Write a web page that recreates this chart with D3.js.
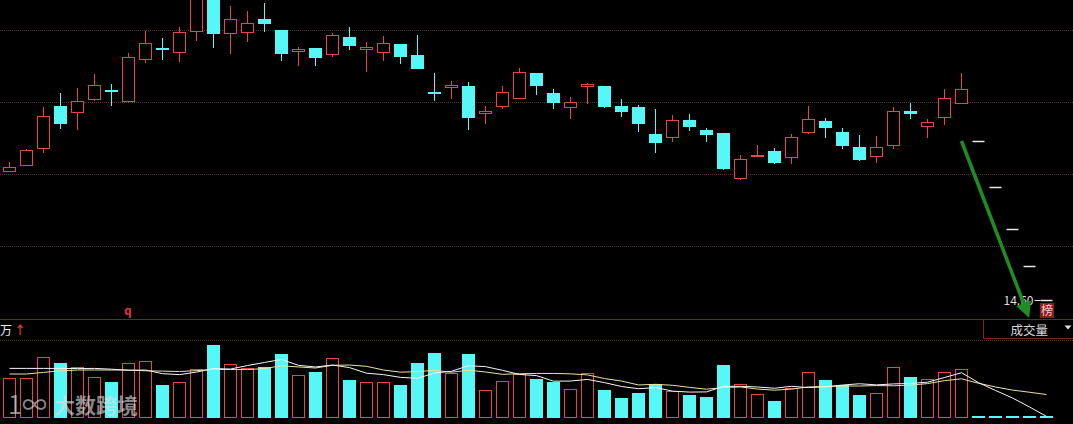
<!DOCTYPE html>
<html>
<head>
<meta charset="utf-8">
<script src="https://cdn.jsdelivr.net/npm/d3@7"></script>
<style>
  body { margin: 0; background: #000; }
</style>
</head>
<body>
<div id="chart"></div>
<script>
// daily candles, last 5 are the flat projection days
var days = d3.range(62);
var opens = [15.89, 15.95, 16.12, 16.54, 16.48, 16.61, 16.70, 16.59, 17.01, 17.12,
  17.08, 17.29, 17.68, 17.27, 17.28, 17.41, 17.30, 17.09, 17.12, 17.06,
  17.23, 17.11, 17.08, 17.16, 17.05, 16.68, 16.73, 16.74, 16.47, 16.54,
  16.62, 16.87, 16.67, 16.53, 16.74, 16.74, 16.54, 16.53, 16.26, 16.23,
  16.40, 16.30, 16.27, 15.82, 16.04, 16.09, 16.03, 16.28, 16.39, 16.28,
  16.13, 16.04, 16.15, 16.49, 16.34, 16.43, 16.57, 16.19, 15.73, 15.31,
  14.94, 14.60];
var highs = [15.98, 16.11, 16.53, 16.67, 16.72, 16.86, 16.76, 17.07, 17.29, 17.22,
  17.33, 17.85, 17.75, 17.54, 17.49, 17.57, 17.30, 17.13, 17.12, 17.27,
  17.33, 17.18, 17.24, 17.16, 17.25, 16.87, 16.79, 16.78, 16.54, 16.74,
  16.92, 16.87, 16.71, 16.63, 16.77, 16.74, 16.61, 16.55, 16.51, 16.45,
  16.46, 16.32, 16.27, 16.05, 16.15, 16.12, 16.26, 16.54, 16.42, 16.32,
  16.25, 16.24, 16.53, 16.57, 16.41, 16.71, 16.87, 16.19, 15.73, 15.31,
  14.94, 14.60];
var lows = [15.88, 15.94, 16.07, 16.31, 16.30, 16.59, 16.54, 16.57, 16.97, 17.00,
  16.98, 17.19, 17.12, 17.06, 17.18, 17.28, 16.99, 16.94, 16.94, 17.03,
  17.10, 16.88, 16.99, 16.96, 16.92, 16.59, 16.61, 16.30, 16.36, 16.51,
  16.62, 16.65, 16.51, 16.41, 16.56, 16.52, 16.43, 16.28, 16.07, 16.18,
  16.29, 16.18, 15.90, 15.80, 16.03, 15.96, 15.96, 16.26, 16.22, 16.11,
  15.99, 15.97, 16.11, 16.41, 16.22, 16.35, 16.57, 16.19, 15.73, 15.31,
  14.94, 14.60];
var closes = [15.93, 16.10, 16.44, 16.37, 16.59, 16.75, 16.69, 17.03, 17.17, 17.11,
  17.28, 17.72, 17.27, 17.41, 17.37, 17.37, 17.07, 17.11, 17.03, 17.25,
  17.15, 17.13, 17.17, 17.04, 16.92, 16.67, 16.75, 16.43, 16.49, 16.68,
  16.88, 16.75, 16.58, 16.58, 16.76, 16.54, 16.49, 16.37, 16.18, 16.40,
  16.34, 16.26, 15.92, 16.01, 16.05, 15.98, 16.23, 16.41, 16.33, 16.15,
  16.01, 16.13, 16.49, 16.47, 16.38, 16.62, 16.71, 16.19, 15.73, 15.31,
  14.94, 14.60];

// volume in 万 and its two moving averages
var volumes = [50, 50, 76, 69, 64, 51, 45, 69, 71, 41,
  45, 61, 91, 68, 63, 64, 80, 54, 58, 75,
  48, 45, 45, 41, 69, 81, 56, 80, 35, 46,
  55, 49, 45, 36, 56, 35, 25, 31, 43, 34,
  29, 26, 66, 43, 30, 21, 38, 58, 48, 41,
  29, 31, 64, 51, 49, 58, 61, 3, 3, 3,
  3, 3];
var volMa5 = [62, 62, 62, 62, 61.8, 62, 61, 59.6, 60, 55.4,
  54.2, 57.4, 61.8, 61.2, 65.6, 69.4, 73.2, 65.8, 63.8, 66.2,
  63, 56, 54.2, 50.8, 49.6, 56.2, 58.4, 65.4, 64.2, 59.6,
  54.4, 53, 46, 46.2, 48.2, 44.2, 39.4, 36.6, 38, 33.6,
  32.4, 32.6, 39.6, 39.6, 38.8, 37.2, 39.6, 38, 39, 41.2,
  42.8, 41.4, 42.6, 43.2, 44.8, 50.6, 56.6, 44.2, 34.4, 25,
  13.8, 2];
var volMa10 = [55, 55, 57, 59, 60, 60, 60, 60, 59, 58.6,
  58.1, 59.2, 60.7, 60.6, 60.5, 61.8, 65.3, 63.8, 62.5, 65.9,
  66.2, 64.6, 60, 57.3, 57.9, 59.6, 57.2, 59.8, 57.5, 54.6,
  55.3, 55.7, 55.7, 55.2, 53.9, 49.3, 46.2, 41.3, 42.1, 40.9,
  38.3, 36, 38.1, 38.8, 36.2, 34.8, 36.1, 38.8, 39.3, 40,
  40, 40.5, 40.3, 41.1, 43, 46.7, 49, 43.4, 38.8, 34.9,
  32.2, 29.3];

var gridPrices = [17.30, 16.58, 15.86, 15.14];
var volGrid = [97.5];
var lowLabel = "14.60";
// hand drawn arrow: from (day, price) to (day, price)
var arrowFrom = [56, 16.19], arrowTo = [59.85, 14.48];

var W = 1073, H = 424;
var RED = "#e84646", CYAN = "#56f7f7", GRID = "#5c2e2e", FRAME = "#7a2222";

var svg = d3.select("#chart").append("svg")
    .attr("width", W)
    .attr("height", H)
    .style("background", "#000")
    .style("font-family", "'Noto Sans CJK SC', 'Noto Sans', sans-serif");

var x = d3.scaleLinear().domain([0, 61]).range([9.5, 1046.5]);
var y = d3.scaleLinear().domain([14.60, 17.60]).range([300, 0]);
var yv = d3.scaleLinear().domain([0, 100]).range([418, 338]);

var data = days.map(function(i){
  return {i: i, o: opens[i], h: highs[i], l: lows[i], c: closes[i], v: volumes[i]};
});

// grid
svg.append("g").selectAll("line")
  .data(gridPrices)
  .enter().append("line")
    .attr("x1", 0).attr("x2", W)
    .attr("y1", function(d){ return Math.round(y(d)) + 0.5; })
    .attr("y2", function(d){ return Math.round(y(d)) + 0.5; })
    .attr("stroke", GRID)
    .attr("stroke-dasharray", "1,1");

svg.append("g").selectAll("line")
  .data(volGrid)
  .enter().append("line")
    .attr("x1", 0).attr("x2", W)
    .attr("y1", function(d){ return Math.round(yv(d)) + 0.5; })
    .attr("y2", function(d){ return Math.round(yv(d)) + 0.5; })
    .attr("stroke", GRID)
    .attr("stroke-dasharray", "1,1");

// panel separator
svg.append("line")
  .attr("x1", 0).attr("x2", W)
  .attr("y1", 319.5).attr("y2", 319.5)
  .attr("stroke", FRAME);

var main = svg.append("g");

function candleColor(d){
  if (d.c > d.o) return RED;
  if (d.c < d.o) return CYAN;
  return "#e6e6e6";
}

var real = data.filter(function(d){ return d.h !== d.l; });
var flat = data.filter(function(d){ return d.h === d.l; });

main.selectAll(".wick")
  .data(real)
  .enter().append("line")
    .attr("class", "wick")
    .attr("x1", function(d){ return x(d.i); })
    .attr("x2", function(d){ return x(d.i); })
    .attr("y1", function(d){ return Math.round(y(d.h)); })
    .attr("y2", function(d){ return Math.round(y(d.l)); })
    .attr("stroke", candleColor);

main.selectAll(".body")
  .data(real)
  .enter().append("rect")
    .attr("class", "body")
    .attr("x", function(d){ return x(d.i) - 6; })
    .attr("width", 12)
    .attr("y", function(d){ return Math.round(y(Math.max(d.o, d.c))) + 0.5; })
    .attr("height", function(d){
      return Math.max(1, Math.round(y(Math.min(d.o, d.c))) - Math.round(y(Math.max(d.o, d.c))));
    })
    .attr("fill", function(d){ return d.c > d.o ? "#000" : CYAN; })
    .attr("stroke", candleColor);

main.selectAll(".flat")
  .data(flat)
  .enter().append("line")
    .attr("class", "flat")
    .attr("x1", function(d){ return x(d.i) - 6; })
    .attr("x2", function(d){ return x(d.i) + 6; })
    .attr("y1", function(d){ return Math.round(y(d.c)) + 0.5; })
    .attr("y2", function(d){ return Math.round(y(d.c)) + 0.5; })
    .attr("stroke", "#e6e6e6")
    .attr("stroke-width", 1.5);

// volume bars
svg.append("g").selectAll("rect")
  .data(data)
  .enter().append("rect")
    .attr("x", function(d){ return x(d.i) - 6; })
    .attr("width", 12)
    .attr("y", function(d){ return Math.round(yv(d.v)) + 0.5; })
    .attr("height", function(d){ return Math.max(1, yv(0) - Math.round(yv(d.v)) - 1); })
    .attr("fill", function(d){ return d.c > d.o ? "#000" : CYAN; })
    .attr("stroke", function(d){ return d.c > d.o ? RED : CYAN; });

var maLine = d3.line()
  .x(function(d, i){ return x(i); })
  .y(function(d){ return yv(d); });

svg.append("path")
  .attr("d", maLine(volMa10))
  .attr("fill", "none")
  .attr("stroke", "#ece3a0")
  .attr("stroke-width", 1);

svg.append("path")
  .attr("d", maLine(volMa5))
  .attr("fill", "none")
  .attr("stroke", "#f6f6f6")
  .attr("stroke-width", 1);

// low price marker
var lowIdx = d3.minIndex(lows);
svg.append("text")
  .attr("x", x(lowIdx) - 13)
  .attr("y", y(lows[lowIdx]) + 5)
  .attr("text-anchor", "end")
  .attr("font-size", 12)
  .attr("fill", "#dcdcdc")
  .text(lowLabel);
svg.append("line")
  .attr("x1", x(lowIdx) - 12).attr("x2", x(lowIdx) - 6)
  .attr("y1", Math.round(y(lows[lowIdx])) + 0.5)
  .attr("y2", Math.round(y(lows[lowIdx])) + 0.5)
  .attr("stroke", "#dcdcdc");

// 榜 badge
var badge = svg.append("g").attr("transform", "translate(1040,303)");
badge.append("rect")
  .attr("width", 14).attr("height", 15)
  .attr("fill", "#8c1c1c");
badge.append("text")
  .attr("x", 7).attr("y", 12)
  .attr("text-anchor", "middle")
  .attr("font-size", 12)
  .attr("fill", "#f2caca")
  .text("榜");

// green annotation arrow
svg.append("defs").append("marker")
  .attr("id", "head")
  .attr("viewBox", "0 0 10 10")
  .attr("refX", 6).attr("refY", 5)
  .attr("markerWidth", 4.5).attr("markerHeight", 4.5)
  .attr("orient", "auto")
  .append("path")
    .attr("d", "M0,0 L10,5 L0,10 z")
    .attr("fill", "#1f8d22");

svg.append("line")
  .attr("x1", x(arrowFrom[0])).attr("y1", y(arrowFrom[1]))
  .attr("x2", x(arrowTo[0])).attr("y2", y(arrowTo[1]))
  .attr("stroke", "#1f8d22")
  .attr("stroke-width", 3.5)
  .attr("marker-end", "url(#head)");

// labels
svg.append("text")
  .attr("x", 124).attr("y", 315)
  .attr("font-size", 12)
  .attr("font-weight", "bold")
  .attr("fill", "#d23c3c")
  .text("q");

svg.append("text")
  .attr("x", 0).attr("y", 335)
  .attr("font-size", 12)
  .attr("fill", "#ececec")
  .text("万");
svg.append("text")
  .attr("x", 14).attr("y", 335)
  .attr("font-size", 12)
  .attr("font-weight", "bold")
  .attr("fill", "#e03434")
  .text("↑");

var tab = svg.append("g").attr("transform", "translate(983.5,319.5)");
tab.append("rect")
  .attr("width", 95).attr("height", 19)
  .attr("fill", "#000")
  .attr("stroke", FRAME);
tab.append("text")
  .attr("x", 27).attr("y", 15)
  .attr("font-size", 12.5)
  .attr("fill", "#d8d8d8")
  .text("成交量");
tab.append("path")
  .attr("d", "M81,6 L88,6 L84.5,10 z")
  .attr("fill", "#e0e0e0");

// watermark
var wm = svg.append("g").attr("opacity", 0.62);
wm.append("text")
  .attr("x", 8).attr("y", 414)
  .attr("font-size", 25)
  .attr("fill", "#dcdcdc")
  .text("1∞");
wm.append("text")
  .attr("x", 54).attr("y", 413)
  .attr("font-size", 21)
  .attr("font-weight", "bold")
  .attr("fill", "#dcdcdc")
  .text("大数跨境");
</script>
</body>
</html>
